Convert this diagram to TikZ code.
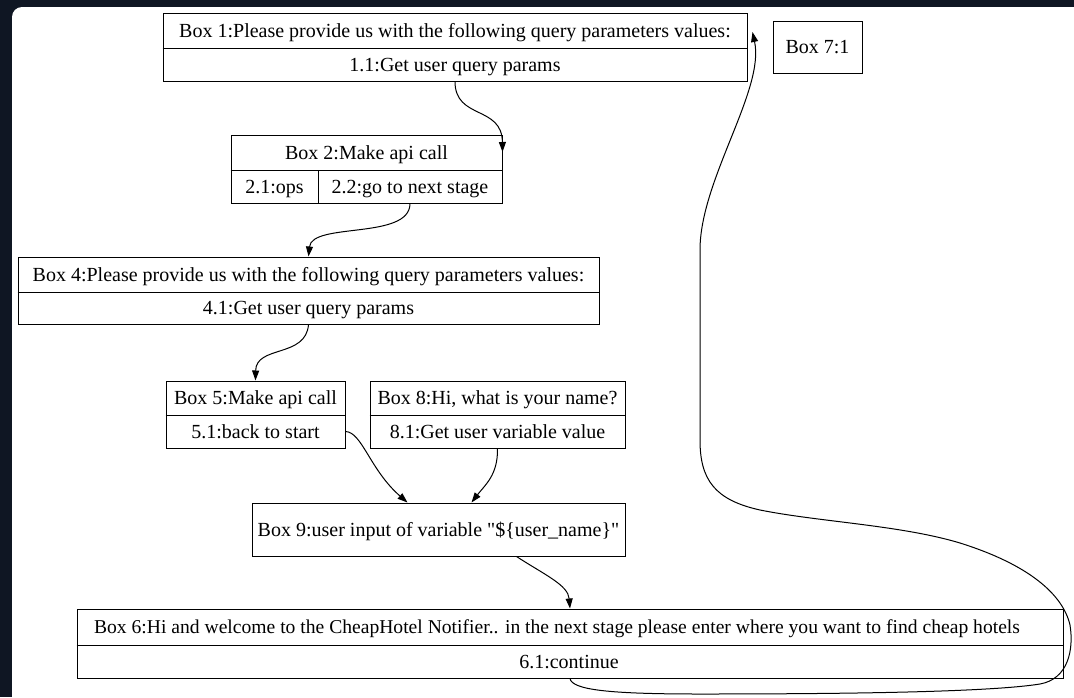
\documentclass[tikz,border=0pt]{standalone}
\usepackage{fontspec}
\setmainfont{Liberation Serif}[Ligatures=TeXOff]
\usetikzlibrary{arrows.meta}
\definecolor{bgdark}{RGB}{15,22,35}
\begin{document}
\begin{tikzpicture}[x=1pt,y=-1pt,
  box/.style={draw=black, line width=1pt, rectangle, inner sep=0pt},
  lbl/.style={inner sep=0pt, font=\fontsize{20}{22}\selectfont, text height=15pt, text depth=2pt},
  conn/.style={draw=black, line width=1pt, -{Triangle[length=10pt,width=7pt]}},
  divider/.style={draw=black, line width=1pt}]
\useasboundingbox (0,0) rectangle (1074,697);
\clip (0,0) rectangle (1074,697);
\fill[bgdark] (0,0) rectangle (1074,697);
\fill[white, rounded corners=10pt] (12,7) rectangle (1100,720);

% Box 1
\node[box, minimum width=584pt, minimum height=68pt] (b1) at (455,47) {};
\draw[divider] (b1.west |- 0,48) -- (b1.east |- 0,48);
\node[lbl] (b1h) at (455,30.5) {Box 1:Please provide us with the following query parameters values:};
\node[lbl] (b1p) at (455,64.5) {1.1:Get user query params};

% Box 7
\node[box, minimum width=89pt, minimum height=52pt] (b7) at (817.5,47) {};
\node[lbl] (b7t) at (817.5,47) {Box 7:1};

% Box 2
\node[box, minimum width=271pt, minimum height=68pt] (b2) at (366.5,169) {};
\draw[divider] (b2.west |- 0,170) -- (b2.east |- 0,170);
\draw[divider] (318,170) -- (318,203);
\node[lbl] (b2h) at (366.5,152.5) {Box 2:Make api call};
\node[lbl] (b2a) at (274.5,186.5) {2.1:ops};
\node[lbl] (b2b) at (410,186.5) {2.2:go to next stage};

% Box 4
\node[box, minimum width=581pt, minimum height=67pt] (b4) at (308.5,290.5) {};
\draw[divider] (b4.west |- 0,292) -- (b4.east |- 0,292);
\node[lbl] (b4h) at (308.5,274.5) {Box 4:Please provide us with the following query parameters values:};
\node[lbl] (b4p) at (308.5,308) {4.1:Get user query params};

% Box 5
\node[box, minimum width=179pt, minimum height=67pt] (b5) at (255.5,414.5) {};
\draw[divider] (b5.west |- 0,415) -- (b5.east |- 0,415);
\node[lbl] (b5h) at (255.5,398) {Box 5:Make api call};
\node[lbl] (b5p) at (255.5,431.5) {5.1:back to start};

% Box 8
\node[box, minimum width=255pt, minimum height=67pt] (b8) at (497.5,414.5) {};
\draw[divider] (b8.west |- 0,415) -- (b8.east |- 0,415);
\node[lbl] (b8h) at (497.5,398) {Box 8:Hi, what is your name?};
\node[lbl] (b8p) at (497.5,431.5) {8.1:Get user variable value};

% Box 9
\node[box, minimum width=373pt, minimum height=53pt] (b9) at (438.5,529.5) {};
\node[lbl] (b9t) at (438.5,529.5) {Box 9:user input of variable "\$\{user\_name\}"};

% Box 6
\node[box, minimum width=986pt, minimum height=69pt] (b6) at (570,643.5) {};
\draw[divider] (b6.west |- 0,645) -- (b6.east |- 0,645);
\node[lbl, font=\fontsize{19.6}{22}\selectfont] (b6h) at (557,627) {Box 6:Hi and welcome to the CheapHotel Notifier.. in the next stage please enter where you want to find cheap hotels};
\node[lbl] (b6p) at (569,661.5) {6.1:continue};

% connectors
\draw[conn] (b1.south) .. controls (455,120) and (502,105) .. ([yshift=17pt]b2.east);
\draw[conn] (b2b |- b2.south) .. controls (410,240) and (312,222) .. (b4.north);
\draw[conn] (b4.south) .. controls (306,358) and (256,345) .. (b5.north);
\draw[conn] (b5.east |- b5p) .. controls (362,432) and (370,470) .. ([xshift=-31pt]b9.north);
\draw[conn] (b8.south) .. controls (498,475) and (485,485) .. ([xshift=33pt]b9.north);
\draw[conn] ([xshift=78pt]b9.south) .. controls (545,575) and (568,585) .. (b6.north);
\draw[conn] (b6.south) .. controls (572,690) and (610,694) .. (700,694)
  .. controls (850,694) and (990,692) .. (1040,684)
  .. controls (1068,679) and (1074,650) .. (1070,625)
  .. controls (1063,595) and (1030,565) .. (960,543)
  .. controls (900,525) and (820,522) .. (760,510)
  .. controls (715,500) and (700,480) .. (700,440)
  -- (700,250)
  .. controls (700,180) and (765,90) .. ([shift={(5pt,15pt)}]b1.east);
\end{tikzpicture}
\end{document}
